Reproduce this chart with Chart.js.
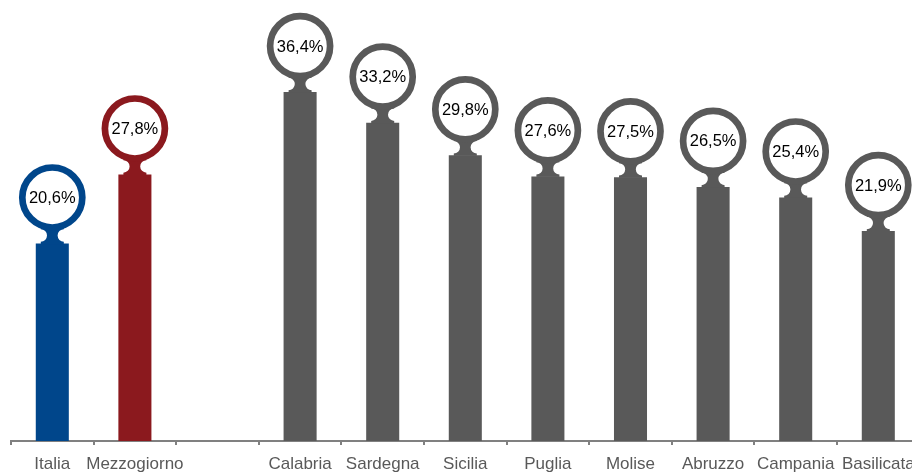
<!DOCTYPE html>
<html>
<head>
<meta charset="utf-8">
<script src="https://cdn.jsdelivr.net/npm/chart.js@4"></script>
<style>
    html, body { margin: 0; padding: 0; background: #fff; overflow: hidden; }
    #wrap { position: relative; width: 925px; height: 473px; }
</style>
</head>
<body>
<div id="wrap"><canvas id="graficoRegioni"></canvas></div>
<script>
const categorie = ['Italia', 'Mezzogiorno', '', 'Calabria', 'Sardegna', 'Sicilia', 'Puglia', 'Molise', 'Abruzzo', 'Campania', 'Basilicata'];
const valori = [20.6, 27.8, null, 36.4, 33.2, 29.8, 27.6, 27.5, 26.5, 25.4, 21.9];
const colori = ['#00468b', '#8b191e', '#595959', '#595959', '#595959', '#595959', '#595959', '#595959', '#595959', '#595959', '#595959'];

// disegna l'anello con etichetta sopra ogni barra
const lentePlugin = {
    id: 'lente',
    afterDatasetsDraw(chart) {
        const ctx = chart.ctx;
        const meta = chart.getDatasetMeta(0);
        meta.data.forEach((bar, i) => {
            const v = valori[i];
            if (v === null || v === undefined) return;
            const x = bar.x, y = bar.y;
            const cy = y - 46;
            const col = colori[i];

            // collo con incavi laterali
            const hw = 11.5;
            const r = 6.2;
            ctx.save();
            ctx.beginPath();
            ctx.rect(x - 40, y - 40, 80, 41);
            ctx.moveTo(x - hw + r, y - 8);
            ctx.arc(x - hw, y - 8, r, 0, Math.PI * 2);
            ctx.moveTo(x + hw + r, y - 8);
            ctx.arc(x + hw, y - 8, r, 0, Math.PI * 2);
            ctx.clip('evenodd');
            ctx.fillStyle = col;
            ctx.fillRect(x - hw, y - 18, hw * 2, 18.5);
            ctx.restore();

            // anello
            ctx.save();
            ctx.beginPath();
            ctx.arc(x, cy, 30, 0, Math.PI * 2);
            ctx.fillStyle = '#ffffff';
            ctx.fill();
            ctx.lineWidth = 6.7;
            ctx.strokeStyle = col;
            ctx.stroke();

            ctx.fillStyle = '#000000';
            ctx.font = '16.5px "Liberation Sans", Arial, sans-serif';
            ctx.textAlign = 'center';
            ctx.textBaseline = 'middle';
            ctx.fillText(v.toFixed(1).replace('.', ',') + '%', x, cy + 1);
            ctx.restore();
        });
    }
};

const ctx = document.getElementById('graficoRegioni').getContext('2d');
new Chart(ctx, {
    type: 'bar',
    data: {
        labels: categorie,
        datasets: [{
            data: valori,
            backgroundColor: colori,
            borderWidth: 0,
            barPercentage: 0.4,
            categoryPercentage: 1
        }]
    },
    options: {
        responsive: true,
        maintainAspectRatio: false,
        animation: false,
        layout: { padding: { left: 11, right: 5.4, top: 0, bottom: 0 } },
        plugins: {
            legend: { display: false },
            tooltip: { enabled: false }
        },
        scales: {
            x: {
                afterFit: s => { s.height = 32; },
                border: { display: true, color: '#808080', width: 2 },
                grid: { display: true, drawOnChartArea: false, drawTicks: true, tickLength: 4, color: '#808080', lineWidth: 2, offset: true },
                ticks: { color: '#595959', font: { family: '"Liberation Sans", Arial, sans-serif', size: 17 }, padding: 9, maxRotation: 0, autoSkip: false }
            },
            y: { display: false, min: 0, max: 46 }
        }
    },
    plugins: [lentePlugin]
});
</script>
</body>
</html>
